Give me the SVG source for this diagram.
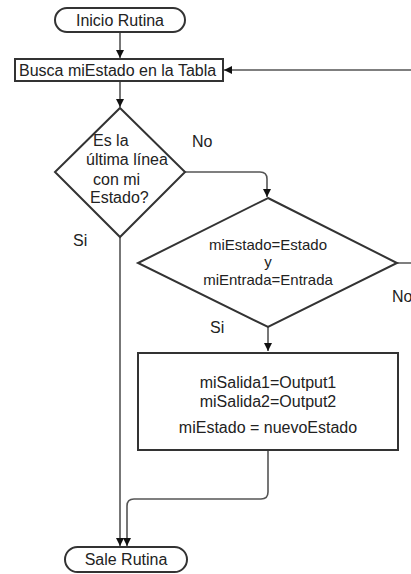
<svg xmlns="http://www.w3.org/2000/svg" width="411" height="574" viewBox="0 0 411 574">
<defs>
<style>
.shape{fill:#fff;stroke:#333;stroke-width:2}
.conn{fill:none;stroke:#555;stroke-width:1.6}
text{font-family:"Liberation Sans",Arial,sans-serif;font-size:16px;fill:#222}
.c{text-anchor:middle}
.d2{font-size:15px}
</style>
<marker id="arr" viewBox="0 0 10 10" refX="10" refY="5" markerWidth="8" markerHeight="8" markerUnits="userSpaceOnUse" orient="auto">
<path d="M0,0 L10,5 L0,10 z" fill="#111"/>
</marker>
</defs>
<rect width="411" height="574" fill="#fff"/>
<g id="connectors">
<path class="conn" d="M120,32 V58" marker-end="url(#arr)"/>
<path class="conn" d="M120,81 V107" marker-end="url(#arr)"/>
<path class="conn" d="M185,172 H260 Q267,172 267,179 V197" marker-end="url(#arr)"/>
<path class="conn" d="M120,237 V546" marker-end="url(#arr)"/>
<path class="conn" d="M268,327 V351" marker-end="url(#arr)"/>
<path class="conn" d="M268,450 V492 Q268,499 261,499 H134 Q127,499 127,506 V546" marker-end="url(#arr)"/>
<path class="conn" d="M397,263 H420 V70 H224" marker-end="url(#arr)"/>
</g>
<g id="start">
<rect class="shape" x="55" y="8" width="130" height="24" rx="12"/>
<text class="c" x="120" y="26">Inicio Rutina</text>
</g>
<g id="busca">
<rect class="shape" x="15" y="59" width="208" height="22"/>
<text x="19" y="76">Busca miEstado en la Tabla</text>
</g>
<g id="decision1">
<polygon class="shape" points="120,108 185,172 120,237 55,172"/>
<text x="93" y="146">Es la</text>
<text x="86" y="165">última línea</text>
<text x="93" y="185">con mi</text>
<text x="90" y="203">Estado?</text>
</g>
<g id="decision2">
<polygon class="shape" points="268,198 397,263 268,327 138,263"/>
<text class="c d2" x="268" y="250">miEstado=Estado</text>
<text class="c d2" x="268" y="267">y</text>
<text class="c d2" x="268" y="285">miEntrada=Entrada</text>
</g>
<g id="action">
<rect class="shape" x="138" y="353" width="260" height="97"/>
<text class="c" x="268" y="388">miSalida1=Output1</text>
<text class="c" x="268" y="407">miSalida2=Output2</text>
<text class="c" x="268" y="433">miEstado = nuevoEstado</text>
</g>
<g id="end">
<rect class="shape" x="65" y="547" width="122" height="25" rx="12.5"/>
<text class="c" x="126" y="565">Sale Rutina</text>
</g>
<g id="labels">
<text x="192" y="147">No</text>
<text x="73" y="246">Si</text>
<text x="210" y="333">Si</text>
<text x="392" y="302">No</text>
</g>
</svg>
